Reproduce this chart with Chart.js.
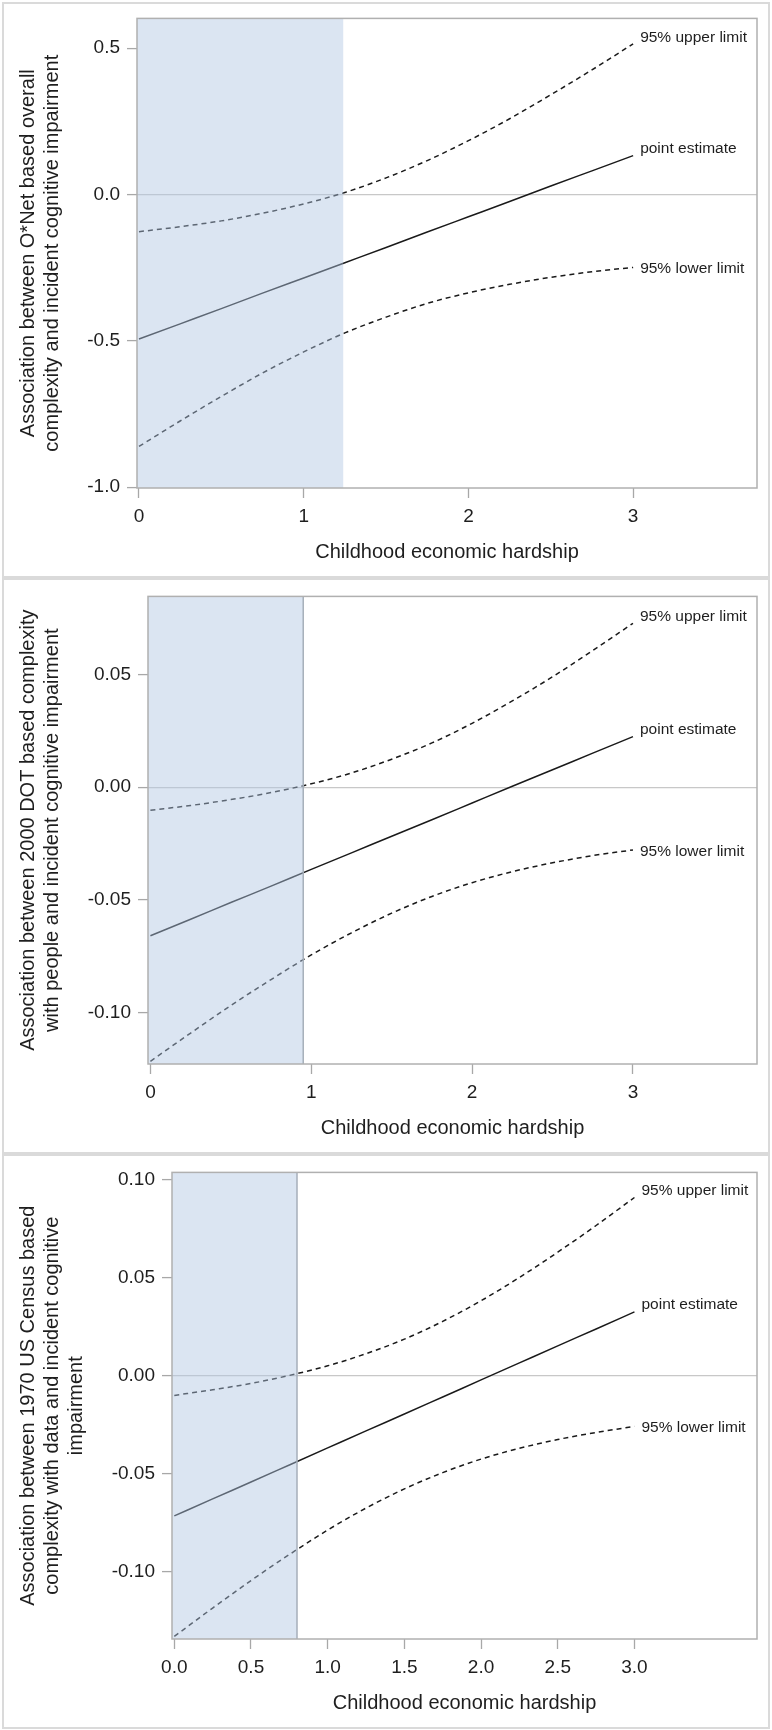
<!DOCTYPE html>
<html lang="en">
<head>
    <meta charset="UTF-8">
    <title>Childhood economic hardship and job complexity</title>
    <script src="https://cdn.jsdelivr.net/npm/chart.js@4.4.1/dist/chart.umd.min.js"></script>
    <style>
        body {
            margin: 0;
            background: #fff;
        }
        #page {
            position: relative;
            width: 772px;
            height: 1730px;
        }
        .panel {
            position: absolute;
            left: 0;
            width: 772px;
        }
        .panel canvas {
            position: absolute;
            left: 0;
            top: 0;
        }
        .frame {
            position: absolute;
            left: 2px;
            width: 768px;
            box-sizing: border-box;
            border: 2px solid #dadada;
            pointer-events: none;
        }
    </style>
</head>
<body>
<div id="page">
    <div class="panel" style="top:0;height:578px"><canvas id="chart1" width="772" height="578"></canvas></div>
    <div class="panel" style="top:578px;height:576px"><canvas id="chart2" width="772" height="576"></canvas></div>
    <div class="panel" style="top:1154px;height:576px"><canvas id="chart3" width="772" height="576"></canvas></div>
    <div class="frame" style="top:2px;height:576px"></div>
    <div class="frame" style="top:578px;height:576px"></div>
    <div class="frame" style="top:1154px;height:575px"></div>
</div>

<script>
    // childhood economic hardship values where the curves were read
    const hardship = [0, 0.25, 0.5, 0.75, 1, 1.25, 1.5, 1.75, 2, 2.25, 2.5, 2.75, 3];
    const curveLabels = ['95% upper limit', 'point estimate', '95% lower limit'];
    const xTitle = 'Childhood economic hardship';

    // panel 1: O*Net based overall complexity
    const onetUpper = [-0.127, -0.110, -0.090, -0.064, -0.032, 0.007, 0.057, 0.116, 0.184, 0.259, 0.341, 0.426, 0.515];
    const onetEst = [-0.494, -0.442, -0.390, -0.337, -0.285, -0.233, -0.181, -0.128, -0.076, -0.024, 0.029, 0.081, 0.133];
    const onetLower = [-0.861, -0.774, -0.690, -0.610, -0.538, -0.473, -0.419, -0.372, -0.336, -0.307, -0.283, -0.264, -0.249];
    const onetYTicks = [-1.0, -0.5, 0.0, 0.5];
    const onetXTicks = [0, 1, 2, 3];
    const onetRegion = 1.24;
    const onetTitle = ['Association between O*Net based overall', 'complexity and incident cognitive impairment'];

    // panel 2: 2000 DOT complexity with people
    const dotUpper = [-0.0102, -0.0081, -0.0055, -0.0024, 0.0015, 0.0063, 0.0124, 0.0196, 0.0283, 0.0382, 0.0489, 0.0605, 0.0726];
    const dotEst = [-0.0658, -0.0585, -0.0511, -0.0438, -0.0364, -0.0291, -0.0217, -0.0144, -0.0070, 0.0004, 0.0077, 0.0151, 0.0224];
    const dotLower = [-0.1214, -0.1089, -0.0967, -0.0852, -0.0743, -0.0645, -0.0558, -0.0484, -0.0423, -0.0374, -0.0335, -0.0303, -0.0278];
    const dotYTicks = [-0.10, -0.05, 0.00, 0.05];
    const dotXTicks = [0, 1, 2, 3];
    const dotRegion = 0.95;
    const dotTitle = ['Association between 2000 DOT based complexity', 'with people and incident cognitive impairment'];

    // panel 3: 1970 US Census complexity with data
    const censusUpper = [-0.0099, -0.0070, -0.0038, 0.0003, 0.0052, 0.0114, 0.0188, 0.0279, 0.0384, 0.0503, 0.0632, 0.0768, 0.0911];
    const censusEst = [-0.0714, -0.0627, -0.0541, -0.0454, -0.0367, -0.0280, -0.0194, -0.0107, -0.0020, 0.0067, 0.0154, 0.0240, 0.0327];
    const censusLower = [-0.1329, -0.1184, -0.1044, -0.0911, -0.0786, -0.0674, -0.0576, -0.0493, -0.0424, -0.0369, -0.0324, -0.0288, -0.0257];
    const censusYTicks = [-0.10, -0.05, 0.00, 0.05, 0.10];
    const censusXTicks = [0, 0.5, 1, 1.5, 2, 2.5, 3];
    const censusRegion = 0.80;
    const censusTitle = ['Association between 1970 US Census based', 'complexity with data and incident cognitive', 'impairment'];

    Chart.defaults.font.family = "'Liberation Sans', Arial, sans-serif";
    Chart.defaults.color = '#1e1e1e';

    const FONT = "'Liberation Sans', Arial, sans-serif";
    const labelDy = [-2, -3, 6];   // vertical nudge of the curve labels

    // shaded region, plot frame and curve labels
    const panelExtras = {
        id: 'panelExtras',
        afterDatasetsDraw(chart, args, opts) {
            const {ctx, chartArea: a, scales: {x}} = chart;
            const xe = x.getPixelForValue(opts.region);
            ctx.save();
            ctx.fillStyle = 'rgba(176,198,226,0.45)';
            ctx.fillRect(a.left, a.top, xe - a.left, a.bottom - a.top);
            if (opts.edge) {
                ctx.strokeStyle = '#a6afba';
                ctx.lineWidth = 1.5;
                ctx.beginPath();
                ctx.moveTo(xe, a.top);
                ctx.lineTo(xe, a.bottom);
                ctx.stroke();
            }
            ctx.strokeStyle = '#b0b0b0';
            ctx.lineWidth = 1.5;
            ctx.strokeRect(a.left, a.top, a.right - a.left, a.bottom - a.top);

            ctx.fillStyle = '#1e1e1e';
            ctx.font = '15.5px ' + FONT;
            ctx.textAlign = 'left';
            ctx.textBaseline = 'alphabetic';
            chart.data.datasets.forEach((ds, i) => {
                const pts = chart.getDatasetMeta(i).data;
                const last = pts[pts.length - 1];
                ctx.fillText(ds.label, last.x + 7, last.y + labelDy[i]);
            });
            ctx.restore();
        }
    };

    function curve(label, ys, dashed) {
        return {
            label: label,
            data: hardship.map((x, i) => ({x: x, y: ys[i]})),
            showLine: true,
            pointRadius: 0,
            borderColor: '#1a1a1a',
            borderWidth: 1.5,
            borderDash: dashed ? [5, 4] : [],
            cubicInterpolationMode: 'monotone',
            fill: false
        };
    }

    function buildChart(id, p) {
        return new Chart(document.getElementById(id), {
            type: 'scatter',
            data: {
                datasets: [
                    curve(curveLabels[0], p.upper, true),
                    curve(curveLabels[1], p.est, false),
                    curve(curveLabels[2], p.lower, true)
                ]
            },
            plugins: [panelExtras],
            options: {
                responsive: false,
                animation: false,
                devicePixelRatio: 1,
                layout: {
                    padding: {left: 0, top: p.top, right: 772 - p.right, bottom: 0}
                },
                scales: {
                    x: {
                        type: 'linear',
                        min: p.xMin,
                        max: p.xMax,
                        afterFit: s => { s.height = p.height - p.bottom; },
                        afterBuildTicks: s => { s.ticks = p.xTicks.map(v => ({value: v})); },
                        grid: {drawOnChartArea: false, tickLength: 10, tickColor: '#a8a8a8', tickWidth: 1.3},
                        border: {display: false},
                        ticks: {
                            padding: 7,
                            maxRotation: 0,
                            autoSkip: false,
                            font: {size: 19},
                            callback: v => Number(v).toFixed(p.xDec)
                        },
                        title: {
                            display: true,
                            text: xTitle,
                            font: {size: 20},
                            padding: {top: 0, bottom: p.titlePad}
                        }
                    },
                    y: {
                        type: 'linear',
                        min: p.yMin,
                        max: p.yMax,
                        afterFit: s => { s.width = p.left; },
                        afterBuildTicks: s => { s.ticks = p.yTicks.map(v => ({value: v})); },
                        grid: {
                            drawOnChartArea: true,
                            color: c => (c.tick && c.tick.value === 0) ? '#c8c8c8' : 'rgba(0,0,0,0)',
                            lineWidth: 1.2,
                            tickLength: 10,
                            tickColor: '#a8a8a8',
                            tickWidth: 1.3
                        },
                        border: {display: false},
                        ticks: {
                            padding: 7,
                            autoSkip: false,
                            font: {size: 19},
                            callback: v => Number(v).toFixed(p.yDec)
                        },
                        title: {
                            display: true,
                            text: p.title,
                            font: {size: 20},
                            padding: {top: 16, bottom: 0}
                        }
                    }
                },
                plugins: {
                    legend: {display: false},
                    tooltip: {enabled: false},
                    panelExtras: {region: p.region, edge: p.edge}
                }
            }
        });
    }

    buildChart('chart1', {
        upper: onetUpper, est: onetEst, lower: onetLower,
        xTicks: onetXTicks, yTicks: onetYTicks, region: onetRegion, title: onetTitle,
        xMin: -0.012, xMax: 3.752, yMin: -1.003, yMax: 0.602,
        xDec: 0, yDec: 1, edge: false,
        height: 578, left: 137, right: 757, top: 15, bottom: 488, titlePad: 14
    });

    buildChart('chart2', {
        upper: dotUpper, est: dotEst, lower: dotLower,
        xTicks: dotXTicks, yTicks: dotYTicks, region: dotRegion, title: dotTitle,
        xMin: -0.015, xMax: 3.771, yMin: -0.1226, yMax: 0.0845,
        xDec: 0, yDec: 2, edge: true,
        height: 576, left: 148, right: 757, top: 13, bottom: 486, titlePad: 14
    });

    buildChart('chart3', {
        upper: censusUpper, est: censusEst, lower: censusLower,
        xTicks: censusXTicks, yTicks: censusYTicks, region: censusRegion, title: censusTitle,
        xMin: -0.015, xMax: 3.799, yMin: -0.1342, yMax: 0.1039,
        xDec: 1, yDec: 2, edge: true,
        height: 576, left: 172, right: 757, top: 18, bottom: 485, titlePad: 15
    });
</script>
</body>
</html>
